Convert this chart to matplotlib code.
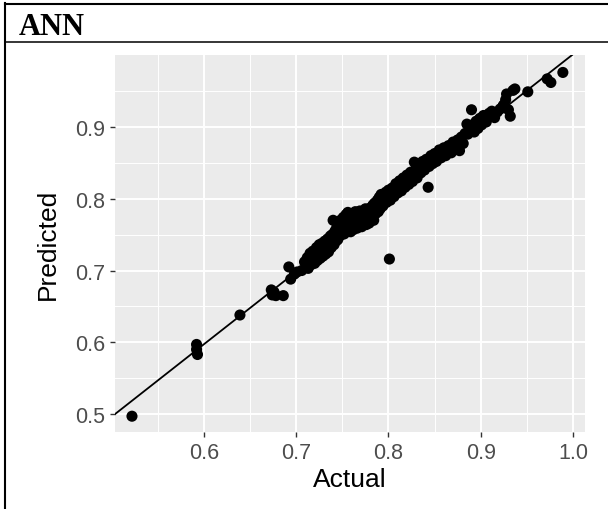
import matplotlib
matplotlib.use("Agg")
import matplotlib.pyplot as plt
import numpy as np

# ---- data ----
actual = [0.522, 0.592, 0.592, 0.593, 0.639,
          0.673, 0.674, 0.676, 0.678, 0.686,
          0.692, 0.694, 0.698, 0.701,
          0.706, 0.709, 0.712, 0.713, 0.715, 0.716, 0.718, 0.719, 0.720, 0.721,
          0.722, 0.723, 0.724, 0.725, 0.726, 0.727, 0.728, 0.729, 0.730, 0.731,
          0.732, 0.733, 0.734, 0.735, 0.736, 0.737, 0.738, 0.739, 0.740, 0.741,
          0.742, 0.743, 0.744, 0.745, 0.746, 0.747, 0.748, 0.749, 0.750, 0.751,
          0.752, 0.753, 0.754, 0.755, 0.756, 0.757, 0.758, 0.759, 0.760, 0.761,
          0.762, 0.763, 0.764, 0.765, 0.766, 0.767, 0.768, 0.769, 0.770, 0.771,
          0.772, 0.774, 0.775, 0.776, 0.777, 0.778, 0.779, 0.780, 0.782, 0.783,
          0.784, 0.785, 0.786, 0.788, 0.789, 0.790, 0.791, 0.792, 0.794, 0.795,
          0.797, 0.798, 0.800, 0.801, 0.802, 0.804, 0.806, 0.808, 0.810, 0.812,
          0.814, 0.816, 0.818, 0.820, 0.822, 0.824, 0.826, 0.828, 0.829, 0.831,
          0.833, 0.835, 0.837, 0.839, 0.841, 0.843, 0.844, 0.846, 0.848, 0.850,
          0.852, 0.855, 0.857, 0.860, 0.862, 0.865, 0.868, 0.870, 0.873, 0.875,
          0.877, 0.879, 0.881, 0.883, 0.885, 0.886, 0.888, 0.890, 0.891, 0.893,
          0.895, 0.897, 0.899, 0.901, 0.903, 0.906, 0.909, 0.912, 0.915, 0.918,
          0.921, 0.924, 0.925, 0.927, 0.928, 0.930, 0.932, 0.935, 0.937, 0.951,
          0.972, 0.976, 0.989]
predicted = [0.497, 0.597, 0.590, 0.583, 0.638,
             0.673, 0.666, 0.670, 0.665, 0.665,
             0.705, 0.688, 0.695, 0.698,
             0.700, 0.712, 0.718, 0.703, 0.724, 0.708, 0.727, 0.712, 0.710, 0.726,
             0.732, 0.714, 0.721, 0.736, 0.717, 0.730, 0.738, 0.720, 0.728, 0.741,
             0.723, 0.735, 0.744, 0.726, 0.739, 0.748, 0.732, 0.750, 0.770, 0.736,
             0.755, 0.741, 0.760, 0.743, 0.765, 0.748, 0.770, 0.750, 0.762, 0.774,
             0.751, 0.768, 0.778, 0.755, 0.781, 0.762, 0.775, 0.754, 0.779, 0.764,
             0.757, 0.776, 0.782, 0.766, 0.759, 0.778, 0.764, 0.783, 0.769, 0.761,
             0.780, 0.767, 0.786, 0.764, 0.782, 0.772, 0.766, 0.787, 0.775, 0.791,
             0.770, 0.794, 0.779, 0.798, 0.782, 0.802, 0.786, 0.806, 0.790, 0.801,
             0.809, 0.795, 0.812, 0.716, 0.798, 0.815, 0.803, 0.821, 0.808, 0.825,
             0.811, 0.829, 0.816, 0.833, 0.820, 0.837, 0.824, 0.851, 0.840, 0.829,
             0.848, 0.836, 0.852, 0.840, 0.855, 0.816, 0.845, 0.860, 0.849, 0.863,
             0.852, 0.868, 0.857, 0.871, 0.860, 0.874, 0.864, 0.879, 0.870, 0.882,
             0.867, 0.886, 0.877, 0.891, 0.904, 0.890, 0.900, 0.924, 0.903, 0.893,
             0.908, 0.898, 0.912, 0.903, 0.916, 0.907, 0.919, 0.922, 0.913, 0.921,
             0.925, 0.929, 0.931, 0.938, 0.946, 0.924, 0.915, 0.951, 0.953, 0.949,
             0.967, 0.962, 0.976]

line_intercept = -0.0087
line_slope = 1.01

x_ticks = [0.6, 0.7, 0.8, 0.9, 1.0]
x_ticklabels = ["0.6", "0.7", "0.8", "0.9", "1.0"]
y_ticks = [0.5, 0.6, 0.7, 0.8, 0.9]
y_ticklabels = ["0.5", "0.6", "0.7", "0.8", "0.9"]
x_minor = [0.55, 0.65, 0.75, 0.85, 0.95]
y_minor = [0.55, 0.65, 0.75, 0.85, 0.95]

title = "ANN"
xlabel = "Actual"
ylabel = "Predicted"

# ---- figure ----
W, H = 608, 510
fig = plt.figure(figsize=(W / 100, H / 100), dpi=100)
fig.patch.set_facecolor("white")


def fx(px):
    return px / W


def fy(py):
    return 1 - py / H


# table-like frame
fig.add_artist(plt.Line2D([fx(5), fx(608)], [fy(5), fy(5)], color="black", lw=1.5))
fig.add_artist(plt.Line2D([fx(5), fx(5)], [fy(4), fy(510)], color="black", lw=1.5))
fig.add_artist(plt.Line2D([fx(5), fx(608)], [fy(43), fy(43)], color="black", lw=1.1))
fig.text(fx(19), fy(35), title, fontsize=22, fontweight="bold",
         family="Liberation Serif", ha="left", va="baseline")

left, right, top, bottom = 115, 585, 56, 433
ax = fig.add_axes([fx(left), fy(bottom), (right - left) / W, (bottom - top) / H])
ax.set_facecolor("#EBEBEB")
for s in ax.spines.values():
    s.set_visible(False)

ax.set_xlim(0.5036, 1.013)
ax.set_ylim(0.475, 1.0003)

ax.set_xticks(x_ticks)
ax.set_xticklabels(x_ticklabels)
ax.set_yticks(y_ticks)
ax.set_yticklabels(y_ticklabels)
ax.set_xticks(x_minor, minor=True)
ax.set_yticks(y_minor, minor=True)

ax.grid(which="major", color="white", lw=1.4)
ax.grid(which="minor", color="white", lw=0.7)
ax.set_axisbelow(True)

ax.tick_params(which="major", length=3.3, width=1.0, color="#333333",
               labelcolor="#4D4D4D", labelsize=15.5, pad=4)
ax.tick_params(which="minor", length=0)
for lab in ax.get_xticklabels() + ax.get_yticklabels():
    lab.set_family("Liberation Sans")

xs = np.array([0.4, 1.1])
ax.plot(xs, line_intercept + line_slope * xs, color="black", lw=1.3, zorder=3)
ax.scatter(actual, predicted, s=64, color="black", edgecolors="none", zorder=4)

ax.set_xlabel(xlabel, fontsize=19, family="Liberation Sans", color="black", labelpad=3)
ax.set_ylabel(ylabel, fontsize=19, family="Liberation Sans", color="black", labelpad=11)

fig.savefig("out.png", dpi=100)
